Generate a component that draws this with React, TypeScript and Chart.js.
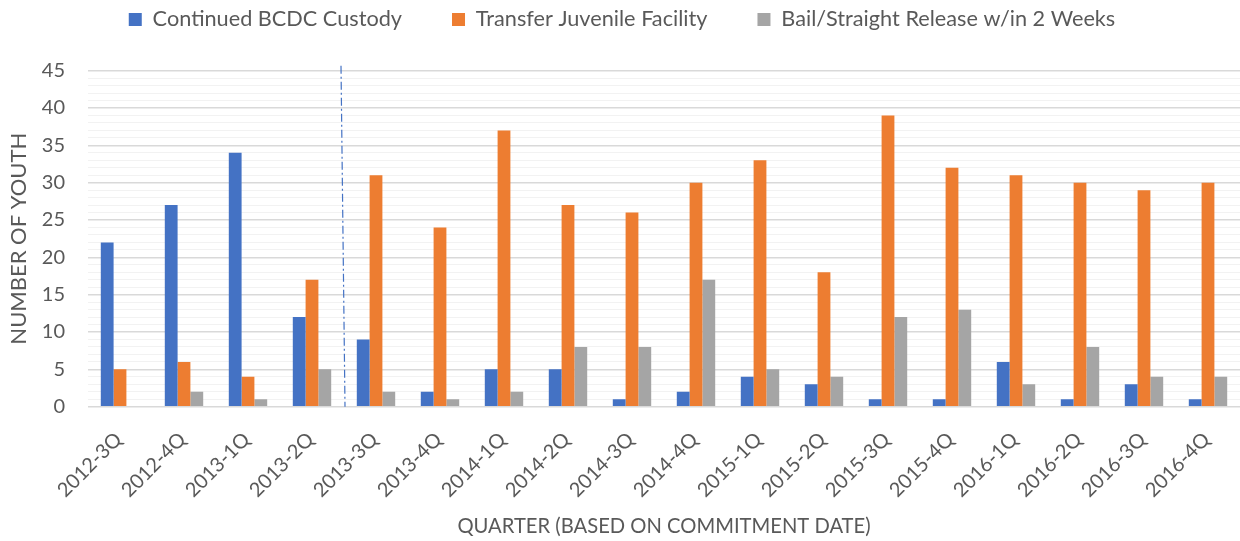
import React, { useEffect, useRef } from 'react';
import { Chart, registerables } from 'chart.js';

Chart.register(...registerables);

const quarters = [
  '2012-3Q', '2012-4Q', '2013-1Q', '2013-2Q', '2013-3Q', '2013-4Q',
  '2014-1Q', '2014-2Q', '2014-3Q', '2014-4Q', '2015-1Q', '2015-2Q',
  '2015-3Q', '2015-4Q', '2016-1Q', '2016-2Q', '2016-3Q', '2016-4Q',
];
const continuedCustody = [22, 27, 34, 12, 9, 2, 5, 5, 1, 2, 4, 3, 1, 1, 6, 1, 3, 1];
const transferJuvenile = [5, 6, 4, 17, 31, 24, 37, 27, 26, 30, 33, 18, 39, 32, 31, 30, 29, 30];
const bailRelease = [0, 2, 1, 5, 2, 1, 2, 8, 8, 17, 5, 4, 12, 13, 3, 8, 4, 4];
const seriesNames = ['Continued BCDC Custody', 'Transfer Juvenile Facility', 'Bail/Straight Release w/in 2 Weeks'];
const seriesColors = ['#4472C4', '#ED7D31', '#A5A5A5'];
const yTickLabels = [0, 5, 10, 15, 20, 25, 30, 35, 40, 45];
const dividerAfter = '2013-2Q';
const xTitle = 'QUARTER (BASED ON COMMITMENT DATE)';
const yTitle = 'NUMBER OF YOUTH';

const FONT = 'Lato, "Open Sans", sans-serif';
const TEXT = '#595959';

const dividerPlugin = {
  id: 'divider',
  afterDatasetsDraw(chart: any) {
    const xs = chart.scales.x;
    const area = chart.chartArea;
    const i = quarters.indexOf(dividerAfter);
    const px = (xs.getPixelForValue(i) + xs.getPixelForValue(i + 1)) / 2;
    const ctx = chart.ctx;
    ctx.save();
    ctx.strokeStyle = '#4472C4';
    ctx.lineWidth = 1.2;
    ctx.setLineDash([8, 3, 2, 3]);
    ctx.beginPath();
    ctx.moveTo(px - 3, area.top - 5);
    ctx.lineTo(px + 1, area.bottom);
    ctx.stroke();
    ctx.restore();
  },
};

export default function App() {
  const ref = useRef<HTMLCanvasElement | null>(null);
  useEffect(() => {
    document.body.style.margin = '0';
    const canvas = ref.current;
    if (!canvas) return;
    const data = [continuedCustody, transferJuvenile, bailRelease];
    const chart = new Chart(canvas, {
      type: 'bar',
      data: {
        labels: quarters,
        datasets: data.map((d, k) => ({
          label: seriesNames[k],
          data: d,
          backgroundColor: seriesColors[k],
          borderWidth: 0,
          barPercentage: 1,
          categoryPercentage: 0.6,
        })),
      },
      options: {
        animation: false,
        responsive: true,
        maintainAspectRatio: false,
        layout: { padding: { top: -41.35, left: 4, right: 0, bottom: 0 } },
        plugins: {
          tooltip: { enabled: false },
          title: { display: true, text: '', weight: 500, padding: { top: 0, bottom: 18.35 }, font: { size: 10 } },
          legend: {
            position: 'top',
            labels: {
              boxWidth: 13,
              boxHeight: 13,
              padding: 50,
              color: TEXT,
              font: { family: FONT, size: 21.7 },
            },
          },
        },
        scales: {
          x: {
            afterFit: (s: any) => { s.height = 134.3; },
            grid: { display: false },
            border: { color: '#D9D9D9', width: 1 },
            ticks: {
              color: TEXT,
              font: { family: FONT, size: 20 },
              maxRotation: 45,
              minRotation: 45,
              autoSkip: false,
              padding: 13,
              labelOffset: -1.5,
            },
            title: {
              display: true,
              text: xTitle,
              color: TEXT,
              font: { family: FONT, size: 20.2 },
              padding: { top: 0, bottom: 2 },
            },
          },
          y: {
            min: 0,
            max: 45,
            afterFit: (s: any) => { s.width = 84; },
            border: { display: false },
            grid: {
              drawTicks: false,
              color: (c: any) => (c.tick && yTickLabels.includes(c.tick.value) ? '#D9D9D9' : '#F2F2F2'),
              lineWidth: (c: any) => (c.tick && yTickLabels.includes(c.tick.value) ? 1.5 : 1),
            },
            ticks: {
              stepSize: 1,
              autoSkip: false,
              color: TEXT,
              padding: 23,
              font: { family: FONT, size: 20 },
              callback: (v: any) => (yTickLabels.includes(Number(v)) ? String(v) : ''),
            },
            title: {
              display: true,
              text: yTitle,
              color: TEXT,
              font: { family: FONT, size: 22 },
              padding: { top: 2, bottom: 0 },
            },
          },
        },
      },
      plugins: [dividerPlugin],
    } as any);
    return () => chart.destroy();
  }, []);
  return (
    <div style={{ position: 'relative', width: 1240, height: 541 }}>
      <canvas ref={ref} />
    </div>
  );
}
